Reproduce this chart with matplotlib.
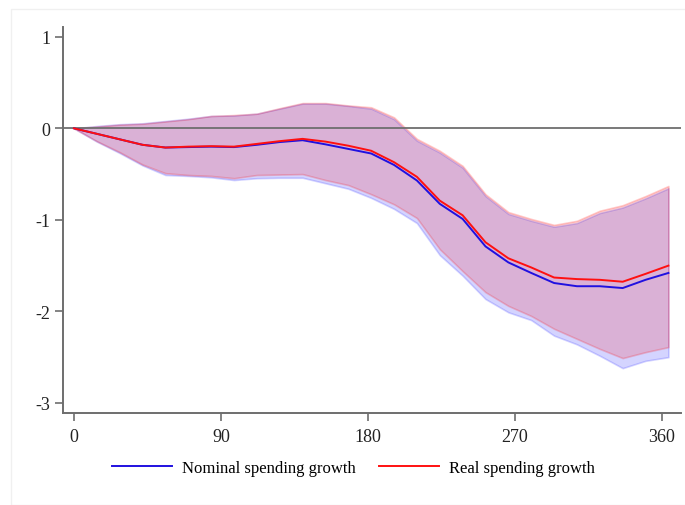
import matplotlib
matplotlib.use("Agg")
import matplotlib.pyplot as plt
from matplotlib.patches import Rectangle

# Horizon in days
days = [0, 14, 28, 42, 56, 70, 84, 98, 112, 126, 140, 154, 168, 182,
        196, 210, 224, 238, 252, 266, 280, 294, 308, 322, 336, 350, 364]

# Nominal spending growth: point estimate and confidence band
nominal = [0, -0.06, -0.12, -0.18, -0.21, -0.205, -0.20, -0.205, -0.18, -0.15,
           -0.13, -0.175, -0.225, -0.275, -0.40, -0.57, -0.825, -0.99, -1.29,
           -1.465, -1.58, -1.69, -1.725, -1.725, -1.745, -1.655, -1.58]
nominal_hi = [0, 0.025, 0.045, 0.055, 0.08, 0.105, 0.135, 0.14, 0.16, 0.215,
              0.27, 0.27, 0.245, 0.215, 0.10, -0.135, -0.265, -0.43, -0.74,
              -0.935, -1.01, -1.075, -1.035, -0.925, -0.865, -0.765, -0.655]
nominal_lo = [0, -0.145, -0.27, -0.405, -0.51, -0.52, -0.535, -0.565, -0.545,
              -0.54, -0.54, -0.60, -0.66, -0.76, -0.88, -1.035, -1.385, -1.61,
              -1.865, -2.01, -2.095, -2.265, -2.36, -2.485, -2.62, -2.54, -2.50]

# Real spending growth: point estimate and confidence band
real = [0, -0.06, -0.12, -0.18, -0.21, -0.20, -0.195, -0.20, -0.17, -0.14,
        -0.115, -0.145, -0.19, -0.245, -0.37, -0.53, -0.79, -0.95, -1.245,
        -1.42, -1.52, -1.63, -1.647, -1.655, -1.676, -1.59, -1.50]
real_hi = [0, 0.02, 0.04, 0.05, 0.075, 0.10, 0.135, 0.145, 0.16, 0.22,
           0.276, 0.276, 0.25, 0.23, 0.12, -0.115, -0.245, -0.41, -0.72,
           -0.915, -0.99, -1.055, -1.01, -0.90, -0.84, -0.74, -0.63]
real_lo = [0, -0.14, -0.26, -0.395, -0.49, -0.51, -0.52, -0.545, -0.51,
           -0.505, -0.50, -0.565, -0.62, -0.72, -0.83, -0.98, -1.32, -1.56,
           -1.79, -1.94, -2.05, -2.19, -2.30, -2.41, -2.51, -2.445, -2.39]

xticks = [0, 90, 180, 270, 360]
yticks = [1, 0, -1, -2, -3]

plt.rcParams["font.family"] = ["Liberation Serif", "DejaVu Serif"]

fig = plt.figure(figsize=(6.85, 5.06), dpi=100)
fig.patches.append(Rectangle((11 / 685, 0), 1, 1 - 10 / 506,
                             transform=fig.transFigure, fill=False,
                             edgecolor="#f0f0f0", linewidth=1.0))

ax = fig.add_axes([63 / 685, 1 - 414 / 506, (681 - 63) / 685, (414 - 28) / 506])

ax.fill_between(days, nominal_lo, nominal_hi, facecolor=(0, 0, 1, 0.17),
                edgecolor=(0, 0, 1, 0.17), linewidth=1.2, zorder=2)
ax.fill_between(days, real_lo, real_hi, facecolor=(1, 0, 0, 0.16),
                edgecolor=(1, 0, 0, 0.2), linewidth=1.2, zorder=3)

ax.axhline(0, color="#6e6e6e", linewidth=1.3, zorder=4)

ax.plot(days, nominal, color="#2010e0", linewidth=1.4, zorder=5,
        label="Nominal spending growth")
ax.plot(days, real, color="#ff1010", linewidth=1.4, zorder=6,
        label="Real spending growth")

ax.set_xlim(-6.7, 371.7)
ax.set_ylim(-3.11, 1.107)
ax.set_xticks(xticks)
ax.set_yticks(yticks)
ax.set_yticklabels([str(v) for v in yticks])

for side in ("top", "right"):
    ax.spines[side].set_visible(False)
for side in ("left", "bottom"):
    ax.spines[side].set_color("#6e6e6e")
    ax.spines[side].set_linewidth(1.4)

ax.tick_params(axis="both", colors="#6e6e6e", length=6, width=1.2,
               labelsize=13, labelcolor="#222222")
ax.tick_params(axis="y", pad=3)
ax.tick_params(axis="x", pad=5)

handles, labels = ax.get_legend_handles_labels()
fig.legend(handles, labels, loc="center", ncol=2,
           bbox_to_anchor=(353 / 685, 1 - 469 / 506), frameon=False,
           fontsize=12, handlelength=3.6, handletextpad=0.6,
           columnspacing=1.4)

fig.savefig("out.png", dpi=100, facecolor="white")
